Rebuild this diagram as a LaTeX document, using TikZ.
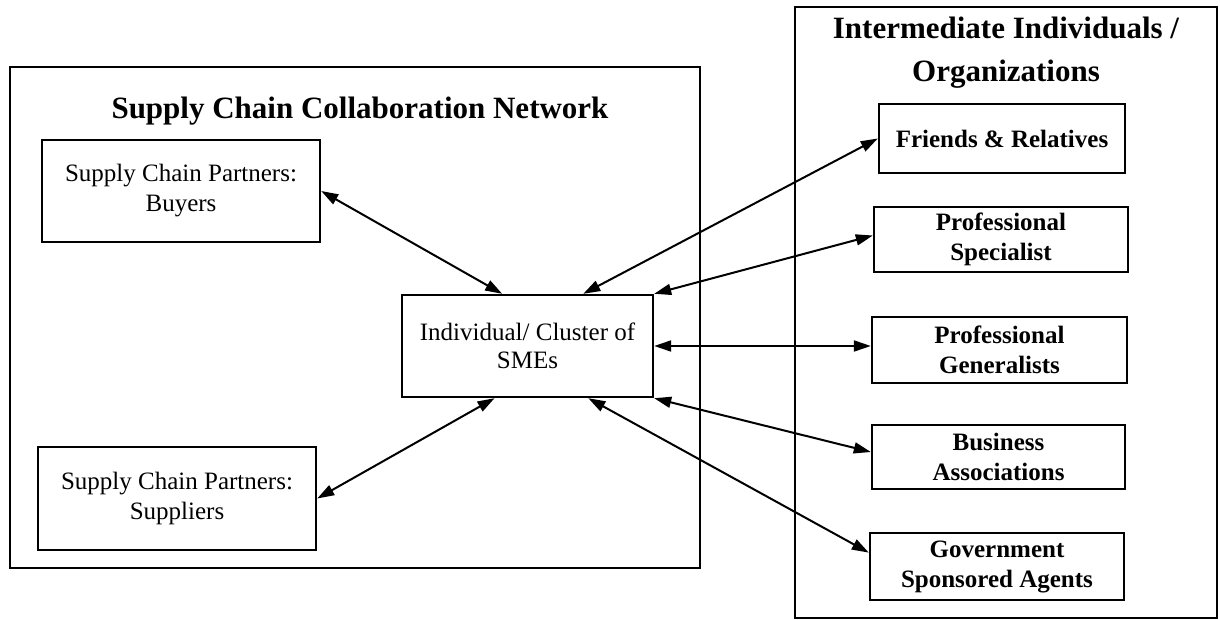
\documentclass[tikz,border=0pt]{standalone}
\usepackage{fontspec}
\setmainfont{Liberation Serif}
\usetikzlibrary{arrows.meta, positioning, calc}

\begin{document}
\begin{tikzpicture}[
    x=1pt, y=-1pt,
    frame/.style={draw, line width=2.8pt, inner sep=0pt},
    box/.style={draw, line width=2.4pt, inner sep=0pt, align=center, font=\fontsize{25}{30}\selectfont},
    ibox/.style={box, font=\fontsize{25}{30}\selectfont\bfseries},
    title/.style={font=\fontsize{31}{43}\selectfont\bfseries, align=center},
    arrow/.style={{Triangle[length=17pt,width=11pt]}-{Triangle[length=17pt,width=11pt]}, line width=2pt}
]
\useasboundingbox (0,0) rectangle (1220,620);

% Supply chain network
\node[frame, minimum width=690pt, minimum height=501pt] (scn) at (355,317.5) {};
\node[title, anchor=base] (scntitle) at (360,119) {Supply Chain Collaboration Network};
\node[box, minimum width=278pt, minimum height=102pt] (buyers) at (181,191) {Supply Chain Partners:\\Buyers};
\node[box, minimum width=278pt, minimum height=103pt] (suppliers) at (177,498.5) {Supply Chain Partners:\\Suppliers};
\node[box, minimum width=251pt, minimum height=102pt, font=\fontsize{25}{28}\selectfont] (sme) at (527.5,346) {Individual/ Cluster of\\SMEs};

% Intermediaries
\node[frame, minimum width=422pt, minimum height=611pt] (inter) at (1006,312.5) {};
\node[title] (intertitle) at (1006,53) {Intermediate Individuals /\\Organizations};
\node[ibox, minimum width=246pt, minimum height=69pt] (friends) at (1002,138.5) {Friends \& Relatives};
\node[ibox, minimum width=254pt, minimum height=65pt] (spec) at (1001,239.5) {Professional\\Specialist};
\node[ibox, minimum width=255pt, minimum height=66pt] (gen) at (999.5,350) {Professional\\Generalists};
\node[ibox, minimum width=253pt, minimum height=64pt] (assoc) at (998.5,457) {Business\\Associations};
\node[ibox, minimum width=254pt, minimum height=67pt] (gov) at (997,566.5) {Government\\Sponsored Agents};

% Links
\draw[arrow] (buyers.east) -- ($(sme.north west)!0.4!(sme.north east)$);
\draw[arrow] (suppliers.east) -- ($(sme.south west)!0.37!(sme.south east)$);
\draw[arrow] ($(sme.north west)!0.72!(sme.north east)$) -- (friends.west);
\draw[arrow] (sme.north east) -- ($(spec.west)+(0,-4)$);
\draw[arrow] (sme.east) -- (sme.east -| gen.west);
\draw[arrow] (sme.south east) -- ($(assoc.west)+(0,-5)$);
\draw[arrow] ($(sme.south west)!0.74!(sme.south east)$) -- ($(gov.north west)!0.3!(gov.south west)$);

\end{tikzpicture}
\end{document}
